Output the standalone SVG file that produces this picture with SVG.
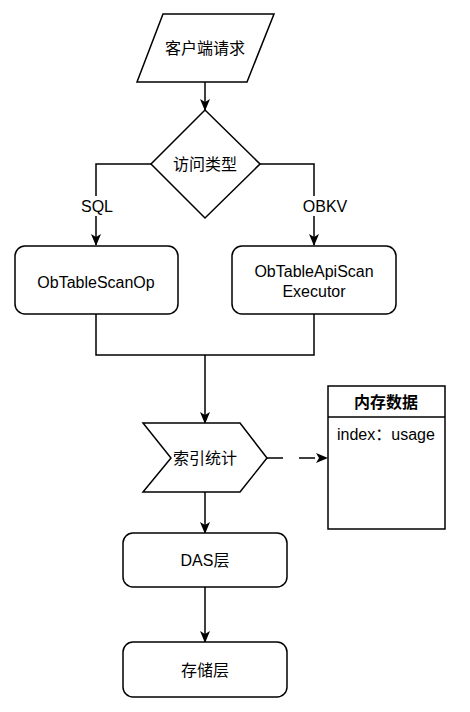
<svg xmlns="http://www.w3.org/2000/svg" width="470" height="712" viewBox="0 0 470 712">
<style>
.s{fill:#fff;stroke:#000;stroke-width:1.5}
.c{fill:none;stroke:#000;stroke-width:1.5}
.t{font-family:"Liberation Sans","Noto Sans CJK SC",sans-serif;font-size:16px;fill:#000;text-anchor:middle;dominant-baseline:central}
</style>
<defs>
<marker id="ah" markerUnits="userSpaceOnUse" markerWidth="12" markerHeight="12" viewBox="0 0 12 12" refX="11" refY="6" orient="auto">
<path d="M0,1 L12,6 L0,11 L3,6 Z" fill="#000"/>
</marker>
</defs>
<rect width="470" height="712" fill="#fff"/>
<g id="connectors">
<path class="c" d="M205,82 V110" marker-end="url(#ah)"/>
<path class="c" d="M151,164 H96 V245" marker-end="url(#ah)"/>
<path class="c" d="M260,164 H314 V245" marker-end="url(#ah)"/>
<path class="c" d="M96,314 V355 H314 V314"/>
<path class="c" d="M205,355 V423" marker-end="url(#ah)"/>
<path class="c" d="M267,458 H327" stroke-dasharray="16 16" marker-end="url(#ah)"/>
<path class="c" d="M205,492 V533" marker-end="url(#ah)"/>
<path class="c" d="M205,587 V642" marker-end="url(#ah)"/>
<rect x="81" y="196" width="32" height="20" fill="#fff"/>
<text class="t" x="97" y="206">SQL</text>
<rect x="303" y="196" width="44" height="20" fill="#fff"/>
<text class="t" x="325" y="206">OBKV</text>
</g>
<g id="client">
<polygon class="s" points="163,14 274,14 247,82 137,82"/>
<text class="t" x="205" y="48">客户端请求</text>
</g>
<g id="type">
<polygon class="s" points="205,110 260,164 205,218 151,164"/>
<text class="t" x="205" y="164">访问类型</text>
</g>
<g id="scanop">
<rect class="s" x="15" y="246" width="163" height="68" rx="10"/>
<text class="t" x="96" y="282">ObTableScanOp</text>
</g>
<g id="apiscan">
<rect class="s" x="232" y="246" width="164" height="68" rx="10"/>
<text class="t" x="314" y="271">ObTableApiScan</text>
<text class="t" x="314" y="291">Executor</text>
</g>
<g id="stat">
<polygon class="s" points="143,423 240,423 267,458 240,492 143,492 171,458"/>
<text class="t" x="205" y="458">索引统计</text>
</g>
<g id="memory">
<rect class="s" x="328" y="386" width="117" height="143"/>
<line class="c" x1="328" y1="417" x2="445" y2="417"/>
<text class="t" x="386" y="402" font-weight="bold">内存数据</text>
<text class="t" x="337" y="434" style="text-anchor:start">index：usage</text>
</g>
<g id="das">
<rect class="s" x="123" y="533" width="164" height="54" rx="10"/>
<text class="t" x="205" y="560">DAS层</text>
</g>
<g id="storage">
<rect class="s" x="123" y="642" width="164" height="55" rx="10"/>
<text class="t" x="205" y="670">存储层</text>
</g>
</svg>
